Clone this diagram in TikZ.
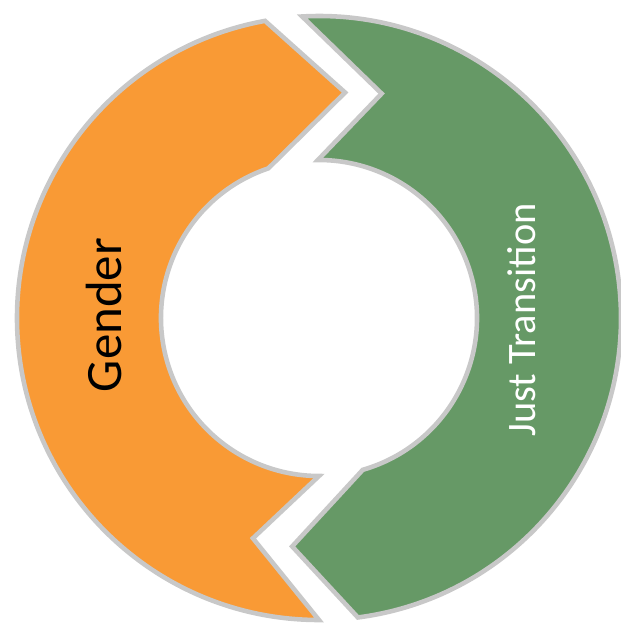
\documentclass[tikz,border=0pt]{standalone}
\usepackage{fontspec}
\setmainfont{Carlito}
\definecolor{genderorange}{HTML}{F99A35}
\definecolor{justgreen}{HTML}{669966}
\definecolor{bandgray}{HTML}{C8C8C8}
\tikzset{
      band/.style={draw=bandgray, line width=2.6pt, line join=miter},
      genderband/.style={band, fill=genderorange},
      justband/.style={band, fill=justgreen},
      bandtext/.style={rotate=90, inner sep=0pt},
}

\begin{document}
\begin{tikzpicture}[x=0.02cm,y=0.02cm]
        \useasboundingbox (-319,-305) rectangle (301,318);

        % Draw the orange arrow (left half)
        \draw[genderband] (270:302) arc[start angle=270, end angle=100.3, radius=302]
              -- (83.4:227) -- (108.7:158) arc[start angle=108.7, end angle=270, radius=158]
              -- (253.3:230) -- cycle;

        % Draw the green arrow (right half)
        \draw[justband] (93.2:302) arc[start angle=93.2, end angle=-82.6, radius=302]
              -- (-96.7:230) -- (-73.9:158) arc[start angle=-73.9, end angle=90.4, radius=158]
              -- (74.4:233) -- cycle;

        % Labels
        \node[bandtext, text=black, font=\fontsize{29}{34}\selectfont] (gender) at (-215,3) {Gender};
        \node[bandtext, text=white, font=\fontsize{23}{28}\selectfont] (justtrans) at (203,-2) {Just Transition};

    \end{tikzpicture}
\end{document}
